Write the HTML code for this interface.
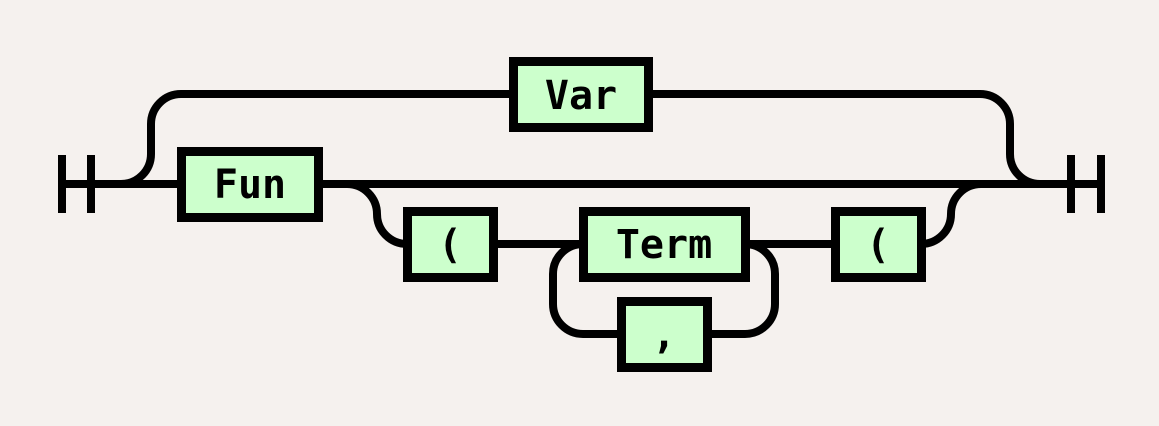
<!DOCTYPE html>
<html><head><meta charset="utf-8"><style>
html,body{margin:0;padding:0;background:#f5f1ee;}
svg{display:block}
text{font-family:"DejaVu Sans Mono","Liberation Mono",monospace;font-weight:bold;font-size:40px;fill:#000;}
</style></head><body>
<svg width="1159" height="426" viewBox="0 0 1159 426" xmlns="http://www.w3.org/2000/svg">
<rect width="1159" height="426" fill="#f5f1ee"/>
<g fill="none" stroke="#000" stroke-width="8">
<!-- start bars -->
<path d="M62 155V213M91 155V213"/>
<path d="M62 184H181"/>
<!-- var branch -->
<path d="M121 184a30 30 0 0 0 30-30V124a30 30 0 0 1 30-30H513"/>
<path d="M649 94H980a30 30 0 0 1 30 30V154a30 30 0 0 0 30 30"/>
<!-- main line -->
<path d="M318 184H1101"/>
<path d="M1071 155V213M1101 155V213"/>
<!-- fun args -->
<path d="M347 184a30 30 0 0 1 30 30a30 30 0 0 0 30 30"/>
<path d="M493 244H583"/>
<path d="M583 244a30 30 0 0 0 -30 30V304a30 30 0 0 0 30 30H621"/>
<path d="M707 334H745a30 30 0 0 0 30-30V274a30 30 0 0 0-30-30"/>
<path d="M746 244H835"/>
<path d="M921 244a30 30 0 0 0 30-30a30 30 0 0 1 30-30"/>
</g>
<g fill="#ccffcc" stroke="#000" stroke-width="9">
<rect x="513.5" y="61.5" width="135" height="66"/>
<rect x="181.5" y="151.5" width="137" height="66"/>
<rect x="407.5" y="211.5" width="86" height="66"/>
<rect x="583.5" y="211.5" width="162" height="66"/>
<rect x="621.5" y="301.5" width="86" height="66"/>
<rect x="835.5" y="211.5" width="86" height="66"/>
</g>
<g text-anchor="middle">
<text x="581" y="109">Var</text>
<text x="250" y="198">Fun</text>
<text x="450" y="258">(</text>
<text x="664" y="258">Term</text>
<text x="664" y="348">,</text>
<text x="878" y="258">(</text>
</g>
</svg>
</body></html>
